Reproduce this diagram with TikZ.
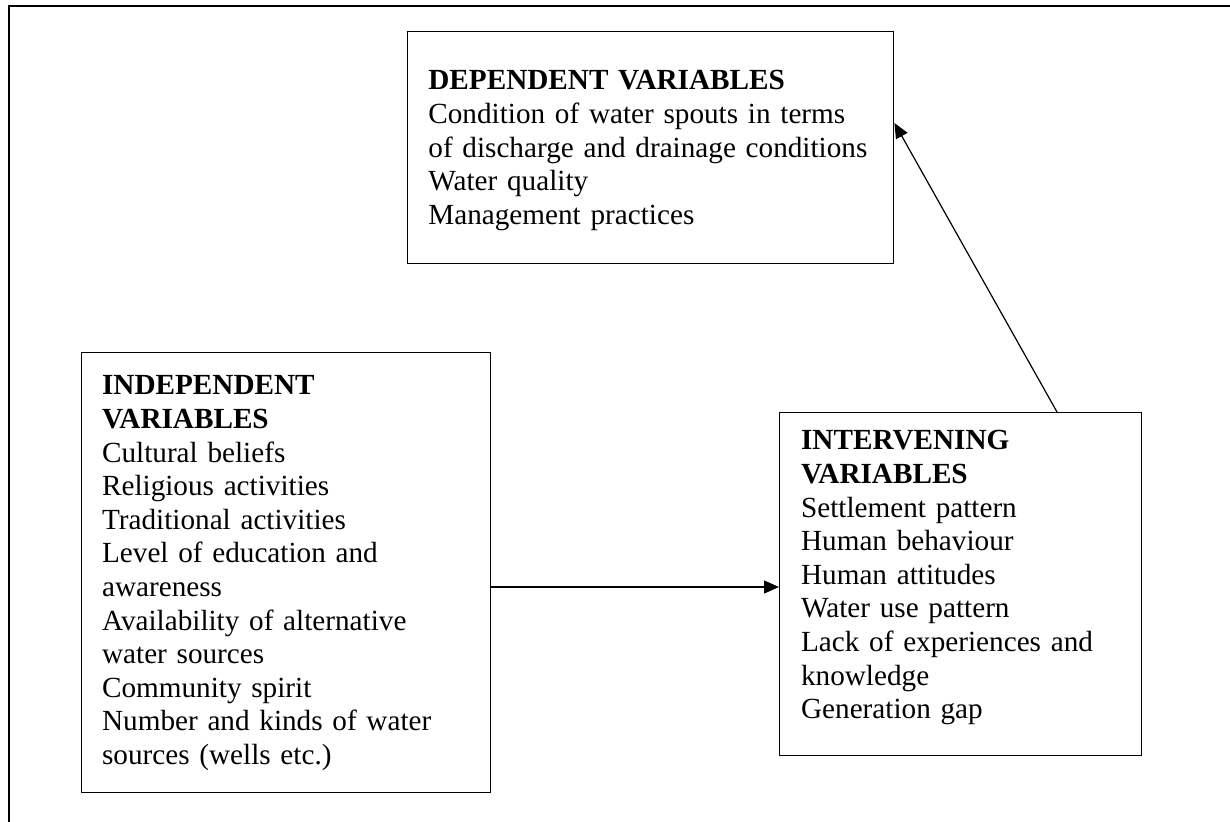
\documentclass[tikz,border=0pt]{standalone}
\usepackage{fontspec}
\setmainfont{Liberation Serif}
\usetikzlibrary{arrows.meta}
\begin{document}
\begin{tikzpicture}[x=0.5pt,y=-0.5pt,
 box/.style={draw=black,line width=0.7pt,rectangle,inner sep=0pt,anchor=north west},
 txt/.style={anchor=base west,inner sep=0pt,align=left,text width=260pt,font=\fontsize{14.6pt}{16.8pt}\selectfont},
 arr/.style={line width=0.6pt,-{Triangle[length=7.5pt,width=6.5pt]}},
 frameline/.style={line width=1pt}]
\useasboundingbox (0,0) rectangle (1230,822);
\draw[frameline] (9,822) -- (9,6) -- (1230,6);
\node[box,minimum width=243pt,minimum height=116pt] (dep) at (407,31) {};
\node[box,minimum width=204.65pt,minimum height=220pt] (ind) at (80.7,351.7) {};
\node[box,minimum width=181pt,minimum height=171.5pt] (int) at (779,412) {};
\node[txt] (dept) at (428,90) {\textbf{DEPENDENT VARIABLES}\\Condition of water spouts in terms\\of discharge and drainage conditions\\Water quality\\Management practices};
\node[txt] (indt) at (101.7,395) {\textbf{INDEPENDENT}\\\textbf{VARIABLES}\\Cultural beliefs\\Religious activities\\Traditional activities\\Level of education and\\awareness\\Availability of alternative\\water sources\\Community spirit\\Number and kinds of water\\sources (wells etc.)};
\node[txt] (intt) at (800.7,450) {\textbf{INTERVENING}\\\textbf{VARIABLES}\\Settlement pattern\\Human behaviour\\Human attitudes\\Water use pattern\\Lack of experiences and\\knowledge\\Generation gap};
\coordinate (hy) at (0,587);
\coordinate (dx) at (1057,0);
\coordinate (dy) at (0,123);
\draw[arr] (ind.east |- hy) -- (int.west |- hy);
\draw[arr] (int.north -| dx) -- (dep.east |- dy);
\end{tikzpicture}
\end{document}
